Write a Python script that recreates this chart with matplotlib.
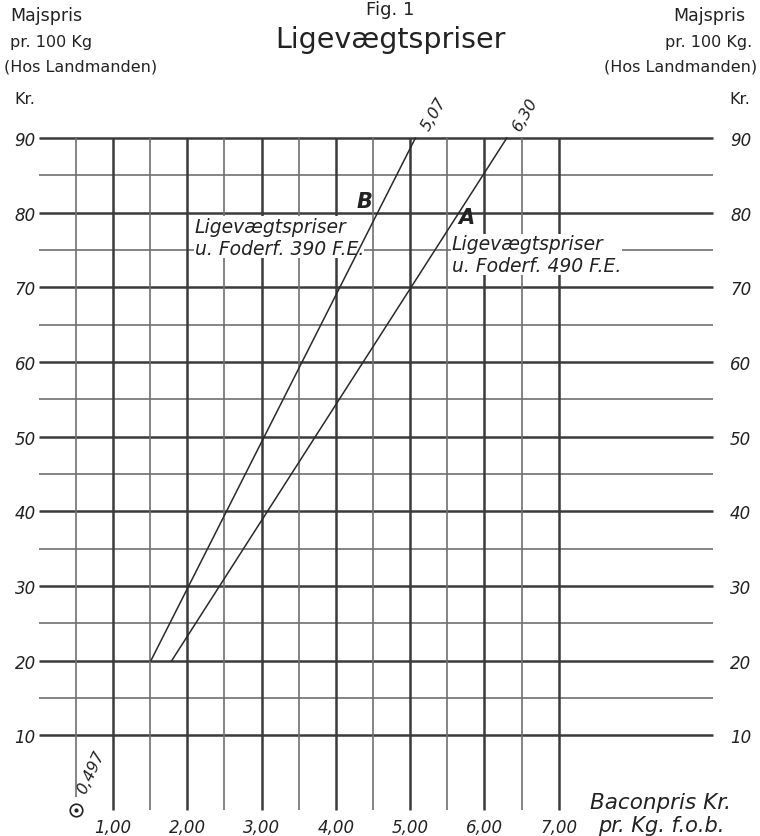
import matplotlib
matplotlib.use("Agg")
import matplotlib.pyplot as plt
from matplotlib.transforms import ScaledTranslation

# data
maize_major = [10, 20, 30, 40, 50, 60, 70, 80, 90]
maize_minor = [15, 25, 35, 45, 55, 65, 75, 85]
bacon_major = [1, 2, 3, 4, 5, 6, 7]
bacon_minor = [0.5, 1.5, 2.5, 3.5, 4.5, 5.5, 6.5]
bacon_labels = ["1,00", "2,00", "3,00", "4,00", "5,00", "6,00", "7,00"]
maize_labels = ["10", "20", "30", "40", "50", "60", "70", "80", "90"]

# equilibrium lines: B (390 F.E.) and A (490 F.E.)
bacon_start = [1.51, 1.79]
bacon_end = [5.07, 6.30]
maize_start = 20
maize_end = 90
end_labels = ["5,07", "6,30"]
zero_point = 0.497

W, H = 760, 837
fig = plt.figure(figsize=(W / 100, H / 100), dpi=100)
ax = fig.add_axes([38.7 / W, (H - 811) / H, 9.08 * 74.3 / W, 672 / H])
ax.set_xlim(0, 9.08)
ax.set_ylim(0, 90)
for s in ax.spines.values():
    s.set_visible(False)

major_c, minor_c = "#3a3a3a", "#707070"
tc = "#222222"

# grid
ax.hlines(maize_major, 0, 9.08, color=major_c, lw=1.8, clip_on=False, zorder=1)
ax.hlines(maize_minor, 0, 9.08, color=minor_c, lw=1.2, clip_on=False, zorder=1)
ax.vlines(bacon_major, 0, 90, color=major_c, lw=1.8, clip_on=False, zorder=1)
ax.vlines(bacon_minor[1:], 0, 90, color=minor_c, lw=1.2, clip_on=False, zorder=1)
ax.vlines(bacon_minor[0], 1.8, 90, color=minor_c, lw=1.2, clip_on=False, zorder=1)

# ticks
ax.set_xticks(bacon_major)
ax.set_xticklabels(bacon_labels)
ax.set_yticks(maize_major)
ax.set_yticklabels(maize_labels)
ax.tick_params(axis="x", length=0, pad=6, labelsize=12)
ax.tick_params(axis="y", length=0, pad=2, labelsize=12,
               labelleft=True, labelright=True)
off = ScaledTranslation(10 / 72, 0, fig.dpi_scale_trans)
for t in ax.xaxis.get_major_ticks():
    t.label1.set_fontstyle("italic")
    t.label1.set_color(tc)
for t in ax.yaxis.get_major_ticks():
    t.label1.set_fontstyle("italic")
    t.label1.set_color(tc)
    t.label2.set_fontstyle("italic")
    t.label2.set_color(tc)
    t.label2.set_transform(t.label2.get_transform() + off)

# equilibrium lines
for i in range(2):
    ax.plot([bacon_start[i], bacon_end[i]], [maize_start, maize_end],
            color="#2a2a2a", lw=1.1, zorder=3, clip_on=False)
    ax.annotate(end_labels[i], (bacon_end[i], maize_end), xytext=(2, 4),
                textcoords="offset points", rotation=60, fontsize=11.5,
                fontstyle="italic", ha="left", va="bottom", color=tc,
                annotation_clip=False)

# labels on the lines
box = dict(facecolor="white", edgecolor="none", pad=0.3)
ax.text(4.39, 81.6, "B", fontsize=15, fontweight="bold", fontstyle="italic",
        ha="center", va="center", color=tc, zorder=4)
ax.text(2.10, 76.7, "Ligevægtspriser\nu. Foderf. 390 F.E.", fontsize=13.5,
        fontstyle="italic", ha="left", va="center", color=tc,
        bbox=box, zorder=2, linespacing=1.2)
ax.text(5.75, 79.4, "A", fontsize=15, fontweight="bold", fontstyle="italic",
        ha="center", va="center", color=tc, zorder=4)
ax.text(5.56, 74.4, "Ligevægtspriser\nu. Foderf. 490 F.E.", fontsize=13.5,
        fontstyle="italic", ha="left", va="center", color=tc,
        bbox=box, zorder=2, linespacing=1.2)

# zero point marker
ax.plot([zero_point], [0], marker="o", ms=9, mfc="white", mec=tc,
        mew=1.2, clip_on=False, zorder=5)
ax.plot([zero_point], [0], marker="o", ms=2, color=tc,
        clip_on=False, zorder=6)
ax.text(0.70, 5.2, "0,497", rotation=65, fontsize=11.5, fontstyle="italic",
        ha="center", va="center", color=tc)


def px(x, y):
    return x / W, 1 - y / H


fig.text(*px(390, 1), "Fig. 1", fontsize=13, ha="center", va="top", color=tc)
fig.text(*px(390, 40), "Ligevægtspriser", fontsize=20.5, ha="center",
         va="center", color=tc)
left_head = ["Majspris", "pr. 100 Kg", "(Hos Landmanden)", "Kr."]
right_head = ["Majspris", "pr. 100 Kg.", "(Hos Landmanden)", "Kr."]
head_size = [12.5, 11.5, 11.5, 11.5]
head_y = [16, 42, 67, 100]
left_x = [10, 10, 4, 14]
right_x = [745, 752, 757, 750]
for s, x, y, fs in zip(left_head, left_x, head_y, head_size):
    fig.text(*px(x, y), s, fontsize=fs, ha="left", va="center", color=tc)
for s, x, y, fs in zip(right_head, right_x, head_y, head_size):
    fig.text(*px(x, y), s, fontsize=fs, ha="right", va="center", color=tc)

fig.text(*px(590, 803), "Baconpris Kr.", fontsize=15.5, fontstyle="italic",
         ha="left", va="center", color=tc)
fig.text(*px(598, 826), "pr. Kg. f.o.b.", fontsize=15, fontstyle="italic",
         ha="left", va="center", color=tc)

fig.savefig("out.png", dpi=100, facecolor="white")
